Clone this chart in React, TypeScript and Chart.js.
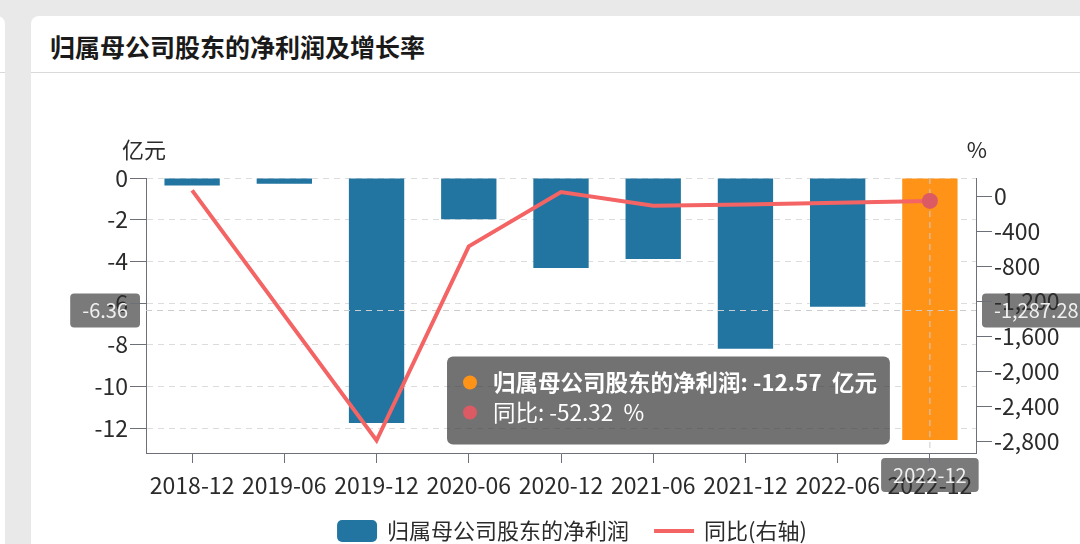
import React, { useEffect, useRef } from 'react';
import { Chart, registerables } from 'chart.js';

Chart.register(...registerables);

// ---- data ----
const categories = ['2018-12', '2019-06', '2019-12', '2020-06', '2020-12', '2021-06', '2021-12', '2022-06', '2022-12'];
const profitValues = [-0.36, -0.27, -11.76, -1.98, -4.32, -3.89, -8.2, -6.18, -12.57];
const growthValues = [68, -1360, -2790, -571, 50, -106, -92, -72, -52.32];
const leftTicks = [0, -2, -4, -6, -8, -10, -12];
const rightTicks = [0, -400, -800, -1200, -1600, -2000, -2400, -2800];
const profitName = '归属母公司股东的净利润';
const growthName = '同比';
const growthLegend = '同比(右轴)';
const leftUnit = '亿元';
const rightUnit = '%';
const chartTitle = '归属母公司股东的净利润及增长率';
const activeIndex = 8;
const pointerLeftValue = -6.36;
const pointerLeftLabel = '-6.36';
const pointerRightLabel = '-1,287.28';
const leftRange = [-13.2, 0];
const rightRange = [-2933, 210];

// ---- styles ----
const FONT = '"Noto Sans CJK SC", "Noto Sans", sans-serif';
const BLUE = '#2275a0';
const ORANGE = '#ff9318';
const RED = '#f46464';
const POINT_RED = '#dc5a64';
const AXIS = '#6e7079';
const GRID = '#dcdcdc';
const TXT = '#2b2b2b';
const POINTER_BG = '#7a7a7a';

const overlayPlugin = {
  id: 'overlay',
  beforeDraw(chart: any) {
    const { ctx, chartArea, scales } = chart;
    const x = scales.x.getPixelForValue(activeIndex);
    const y = scales.y.getPixelForValue(pointerLeftValue);
    ctx.save();
    ctx.font = `20px ${FONT}`;
    ctx.fillStyle = POINTER_BG;
    const lw = ctx.measureText(pointerLeftLabel).width + 24;
    ctx.beginPath();
    ctx.roundRect(chartArea.left - 6 - lw, y - 17, lw, 34, 4);
    ctx.fill();
    const rw = ctx.measureText(pointerRightLabel).width + 24;
    ctx.beginPath();
    ctx.roundRect(chartArea.right + 6, y - 17, rw, 34, 4);
    ctx.fill();
    const bw = ctx.measureText(categories[activeIndex]).width + 24;
    ctx.beginPath();
    ctx.roundRect(x - bw / 2, chartArea.bottom + 5, bw, 34, 4);
    ctx.fill();
    ctx.restore();
  },
  afterDatasetDraw(chart: any, args: any) {
    if (args.index !== 0) return;
    const { ctx, chartArea, scales } = chart;
    const x = scales.x.getPixelForValue(activeIndex);
    const y = scales.y.getPixelForValue(pointerLeftValue);
    ctx.save();
    ctx.strokeStyle = '#cccccc';
    ctx.lineWidth = 1;
    ctx.setLineDash([6, 5]);
    ctx.beginPath();
    ctx.moveTo(chartArea.left, y);
    ctx.lineTo(chartArea.right, y);
    ctx.moveTo(x, chartArea.top);
    ctx.lineTo(x, chartArea.bottom);
    ctx.stroke();
    ctx.restore();
  },
  afterDraw(chart: any) {
    const { ctx, chartArea, scales } = chart;
    const x = scales.x.getPixelForValue(activeIndex);
    const y = scales.y.getPixelForValue(pointerLeftValue);
    ctx.save();
    // pointer label texts
    ctx.font = `20px ${FONT}`;
    ctx.fillStyle = '#f0f0f0';
    ctx.textBaseline = 'middle';
    ctx.textAlign = 'right';
    ctx.fillText(pointerLeftLabel, chartArea.left - 18, y);
    ctx.textAlign = 'left';
    ctx.fillText(pointerRightLabel, chartArea.right + 18, y);
    ctx.textAlign = 'center';
    ctx.fillText(categories[activeIndex], x, chartArea.bottom + 22);

    // axis names
    ctx.font = `22px ${FONT}`;
    ctx.fillStyle = TXT;
    ctx.textAlign = 'center';
    ctx.fillText(leftUnit, chartArea.left - 2, chartArea.top - 28);
    ctx.fillText(rightUnit, chartArea.right + 1, chartArea.top - 28);

    // legend
    const ly = 531;
    ctx.font = `22px ${FONT}`;
    const t1 = ctx.measureText(profitName).width;
    const t2 = ctx.measureText(growthLegend).width;
    const total = 40 + 10 + t1 + 25 + 40 + 10 + t2;
    let lx = 572 - total / 2;
    ctx.fillStyle = BLUE;
    ctx.beginPath();
    ctx.roundRect(lx, ly - 11, 40, 22, 5);
    ctx.fill();
    lx += 50;
    ctx.fillStyle = TXT;
    ctx.textAlign = 'left';
    ctx.fillText(profitName, lx, ly);
    lx += t1 + 25;
    ctx.strokeStyle = RED;
    ctx.lineWidth = 4;
    ctx.beginPath();
    ctx.moveTo(lx, ly);
    ctx.lineTo(lx + 40, ly);
    ctx.stroke();
    lx += 50;
    ctx.fillText(growthLegend, lx, ly);

    // tooltip
    const line1 = `${profitName}: ${profitValues[activeIndex]}  ${leftUnit}`;
    const line2 = `${growthName}: ${growthValues[activeIndex]}  ${rightUnit}`;
    const tf = 22.5;
    ctx.font = `bold ${tf}px ${FONT}`;
    const w1 = ctx.measureText(line1).width;
    ctx.font = `${tf}px ${FONT}`;
    const w2 = ctx.measureText(line2).width;
    const boxW = 16 + 14 + 16 + Math.max(w1, w2) + 13;
    const boxH = 88;
    const bx = x - 40 - boxW;
    const by = y + 46;
    ctx.fillStyle = 'rgba(60,60,60,0.72)';
    ctx.beginPath();
    ctx.roundRect(bx, by, boxW, boxH, 6);
    ctx.fill();
    ctx.fillStyle = ORANGE;
    ctx.beginPath();
    ctx.arc(bx + 23, by + 26, 7, 0, Math.PI * 2);
    ctx.fill();
    ctx.fillStyle = POINT_RED;
    ctx.beginPath();
    ctx.arc(bx + 23, by + 56, 7, 0, Math.PI * 2);
    ctx.fill();
    ctx.fillStyle = '#ffffff';
    ctx.textAlign = 'left';
    ctx.font = `bold ${tf}px ${FONT}`;
    ctx.fillText(line1, bx + 46, by + 26);
    ctx.font = `${tf}px ${FONT}`;
    ctx.fillText(line2, bx + 46, by + 56);
    ctx.restore();
  },
};

export default function App() {
  const canvasRef = useRef<HTMLCanvasElement>(null);

  useEffect(() => {
    const canvas = canvasRef.current;
    if (!canvas) return;
    const tickFont = { family: FONT, size: 23 };
    const chart = new Chart(canvas, {
      type: 'bar',
      data: {
        labels: categories,
        datasets: [
          {
            type: 'bar',
            label: profitName,
            data: profitValues,
            backgroundColor: categories.map((_, i) => (i === activeIndex ? ORANGE : BLUE)),
            yAxisID: 'y',
            order: 1,
            categoryPercentage: 1,
            barPercentage: 0.6,
          } as any,
          {
            type: 'line',
            label: growthLegend,
            data: growthValues,
            borderColor: RED,
            backgroundColor: RED,
            borderWidth: 4,
            yAxisID: 'y1',
            order: 0,
            tension: 0,
            pointRadius: categories.map((_, i) => (i === activeIndex ? 8 : 0)),
            pointBackgroundColor: POINT_RED,
            pointBorderWidth: 0,
          } as any,
        ],
      },
      options: {
        responsive: false,
        animation: false,
        events: [],
        layout: { padding: { top: 178, left: 0, right: 0, bottom: 0 } },
        plugins: { legend: { display: false }, tooltip: { enabled: false } },
        scales: {
          x: {
            offset: true,
            grid: { offset: false, drawOnChartArea: false, tickLength: 10, tickColor: AXIS, tickWidth: 1 },
            border: { color: AXIS, width: 1 },
            ticks: { autoSkip: false, maxRotation: 0, minRotation: 0, padding: 8, color: TXT, font: tickFont },
            afterFit: (s: any) => { s.height = 91; },
          },
          y: {
            position: 'left',
            min: leftRange[0],
            max: leftRange[1],
            ticks: { padding: 2, color: TXT, font: tickFont },
            afterBuildTicks: (s: any) => { s.ticks = leftTicks.map((v) => ({ value: v })); },
            grid: { color: GRID, tickColor: AXIS, tickLength: 16, tickBorderDash: [], lineWidth: 1 },
            border: { color: AXIS, dash: [6, 5], width: 1 },
            afterFit: (s: any) => { s.width = 146; },
          },
          y1: {
            position: 'right',
            min: rightRange[0],
            max: rightRange[1],
            ticks: {
              padding: 2,
              color: TXT,
              font: tickFont,
              callback: (v: any) => Number(v).toLocaleString('en-US'),
            },
            afterBuildTicks: (s: any) => { s.ticks = rightTicks.map((v) => ({ value: v })); },
            grid: { drawOnChartArea: false, tickColor: AXIS, tickLength: 16, tickBorderDash: [] },
            border: { color: AXIS, width: 1 },
            afterFit: (s: any) => { s.width = 104; },
          },
        },
      } as any,
      plugins: [overlayPlugin],
    });
    return () => chart.destroy();
  }, []);

  return (
    <div
      style={{
        position: 'fixed',
        left: 0,
        top: 0,
        width: 1080,
        height: 544,
        background: '#e9e9e9',
        overflow: 'hidden',
        fontFamily: FONT,
      }}
    >
      <div style={{ position: 'absolute', left: -30, top: 16, width: 35, height: 600, background: '#fff', borderRadius: 8 }}>
        <div style={{ position: 'absolute', left: 0, right: 0, top: 56, height: 1, background: '#d9d9d9' }} />
      </div>
      <div style={{ position: 'absolute', left: 31, top: 16, width: 1100, height: 600, background: '#fff', borderRadius: 8 }}>
        <div
          style={{
            position: 'absolute',
            left: 19,
            top: 18,
            fontSize: 25,
            lineHeight: '25px',
            fontWeight: 'bold',
            color: '#1a1a1a',
            whiteSpace: 'nowrap',
          }}
        >
          {chartTitle}
        </div>
        <div style={{ position: 'absolute', left: 0, right: 0, top: 56, height: 1, background: '#d9d9d9' }} />
      </div>
      <canvas ref={canvasRef} width={1080} height={544} style={{ position: 'absolute', left: 0, top: 0, display: 'block' }} />
    </div>
  );
}
